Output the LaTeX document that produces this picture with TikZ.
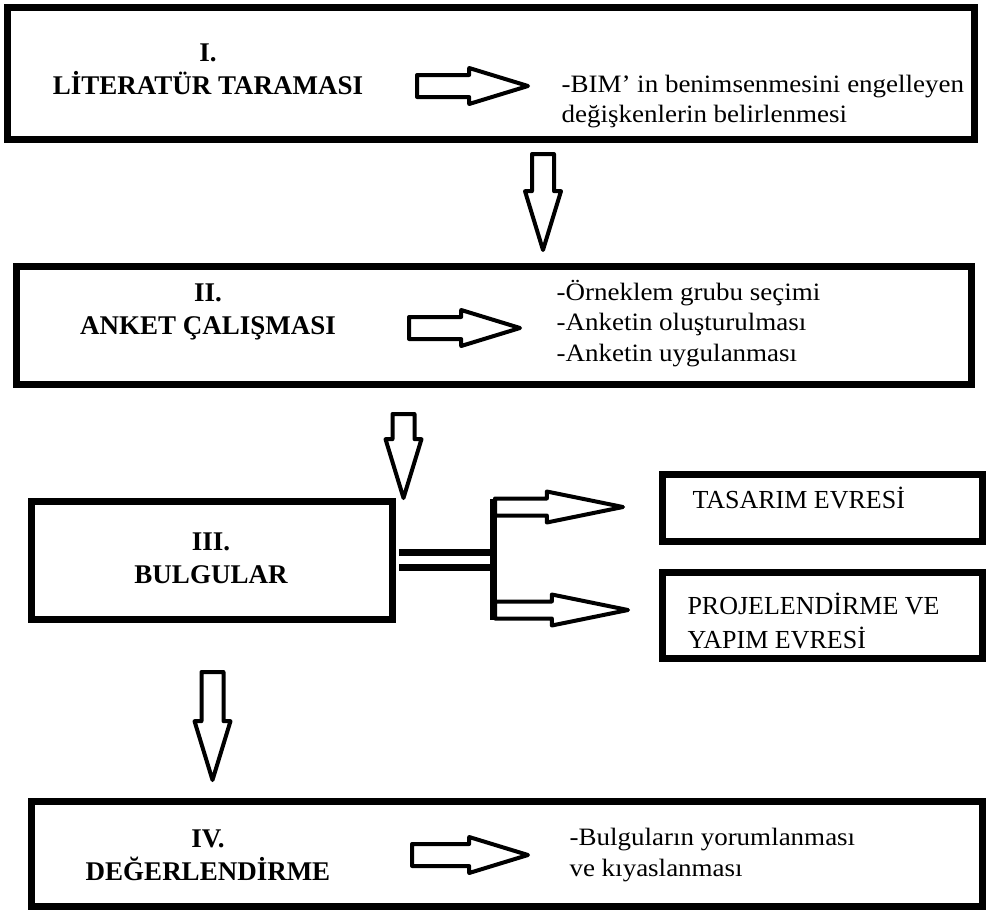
\documentclass[tikz,border=0pt]{standalone}
\usepackage{fontspec}
\setmainfont{Liberation Serif}
\newfontfamily\widefont{Liberation Serif}[FakeStretch=1.08]
\usetikzlibrary{shapes.arrows}

\tikzset{
  frame/.style={draw,line width=7pt,inner sep=0pt},
  title/.style={font=\fontsize{27}{33}\selectfont\bfseries,align=center},
  note/.style={font=\widefont\fontsize{25}{30.5}\selectfont,align=left,anchor=west},
  phase/.style={font=\fontsize{26}{34}\selectfont,align=left,anchor=west},
  hollow/.style={single arrow,draw,line width=4pt,line join=round,inner sep=0pt,inner ysep=9pt,
    single arrow head extend=7pt,single arrow tip angle=34,anchor=tail},
  slim/.style={single arrow,draw,line width=4pt,line join=round,inner sep=0pt,inner ysep=6.5pt,
    single arrow head extend=7pt,single arrow tip angle=23,anchor=tail}
}

\begin{document}
\begin{tikzpicture}[x=1pt,y=-1pt]
\useasboundingbox (0,0) rectangle (986,913);

% boxes
\node[frame,minimum width=967pt,minimum height=132pt] (lit) at (491,73.5) {};
\node[frame,minimum width=955pt,minimum height=118pt] (ank) at (494,325.5) {};
\node[frame,minimum width=361pt,minimum height=118pt] (bul) at (211.5,560) {};
\node[frame,minimum width=320pt,minimum height=67pt] (tas) at (822,507.5) {};
\node[frame,minimum width=320pt,minimum height=86pt] (pro) at (822,615) {};
\node[frame,minimum width=951pt,minimum height=105pt] (deg) at (506.5,853.5) {};

% texts
\node[title] (litT) at (208,69) {I.\\LİTERATÜR TARAMASI};
\node[note] (litN) at (558,101.5) {-BIM’ in benimsenmesini engelleyen\\değişkenlerin belirlenmesi};
\node[title] (ankT) at (208,312) {II.\\ANKET ÇALIŞMASI};
\node[note] (ankN) at (553,323.5) {-Örneklem grubu seçimi\\-Anketin oluşturulması\\-Anketin uygulanması};
\node[title] (bulT) at (211,558.5) {III.\\BULGULAR};
\node[phase,anchor=base west] (tasT) at (689,508) {TASARIM EVRESİ};
\node[phase] (proT) at (684,621) {PROJELENDİRME VE\\YAPIM EVRESİ};
\node[title] (degT) at (208,855) {IV.\\DEĞERLENDİRME};
\node[note] (degN) at (566,855) {-Bulguların yorumlanması\\ve kıyaslanması};

% arrows inside the boxes
\node[hollow,minimum height=111pt] (litA) at (415,86) {};
\node[hollow,minimum height=111pt] (ankA) at (407,328) {};
\node[hollow,minimum height=116pt] (degA) at (410,855) {};

% arrows between the boxes
\node[hollow,rotate=-90,minimum height=96pt] (down1) at (543,152) {};
\node[hollow,rotate=-90,minimum height=84pt] (down2) at (403.5,412) {};
\node[hollow,rotate=-90,minimum height=108pt] (down3) at (212.5,670) {};

% split to the two phases
\coordinate (split) at (493,560);
\coordinate (splitT) at (493,499);
\coordinate (splitB) at (493,620);
\draw[line width=7pt,double,double distance=8pt] ([xshift=3.5pt]bul.east) -- ([xshift=-3.5pt]split);
\draw[line width=7pt] (splitT) -- (splitB);
\node[slim,minimum height=128pt] (toTas) at (493,507) {};
\node[slim,minimum height=133pt] (toPro) at (493,610) {};
\end{tikzpicture}
\end{document}
